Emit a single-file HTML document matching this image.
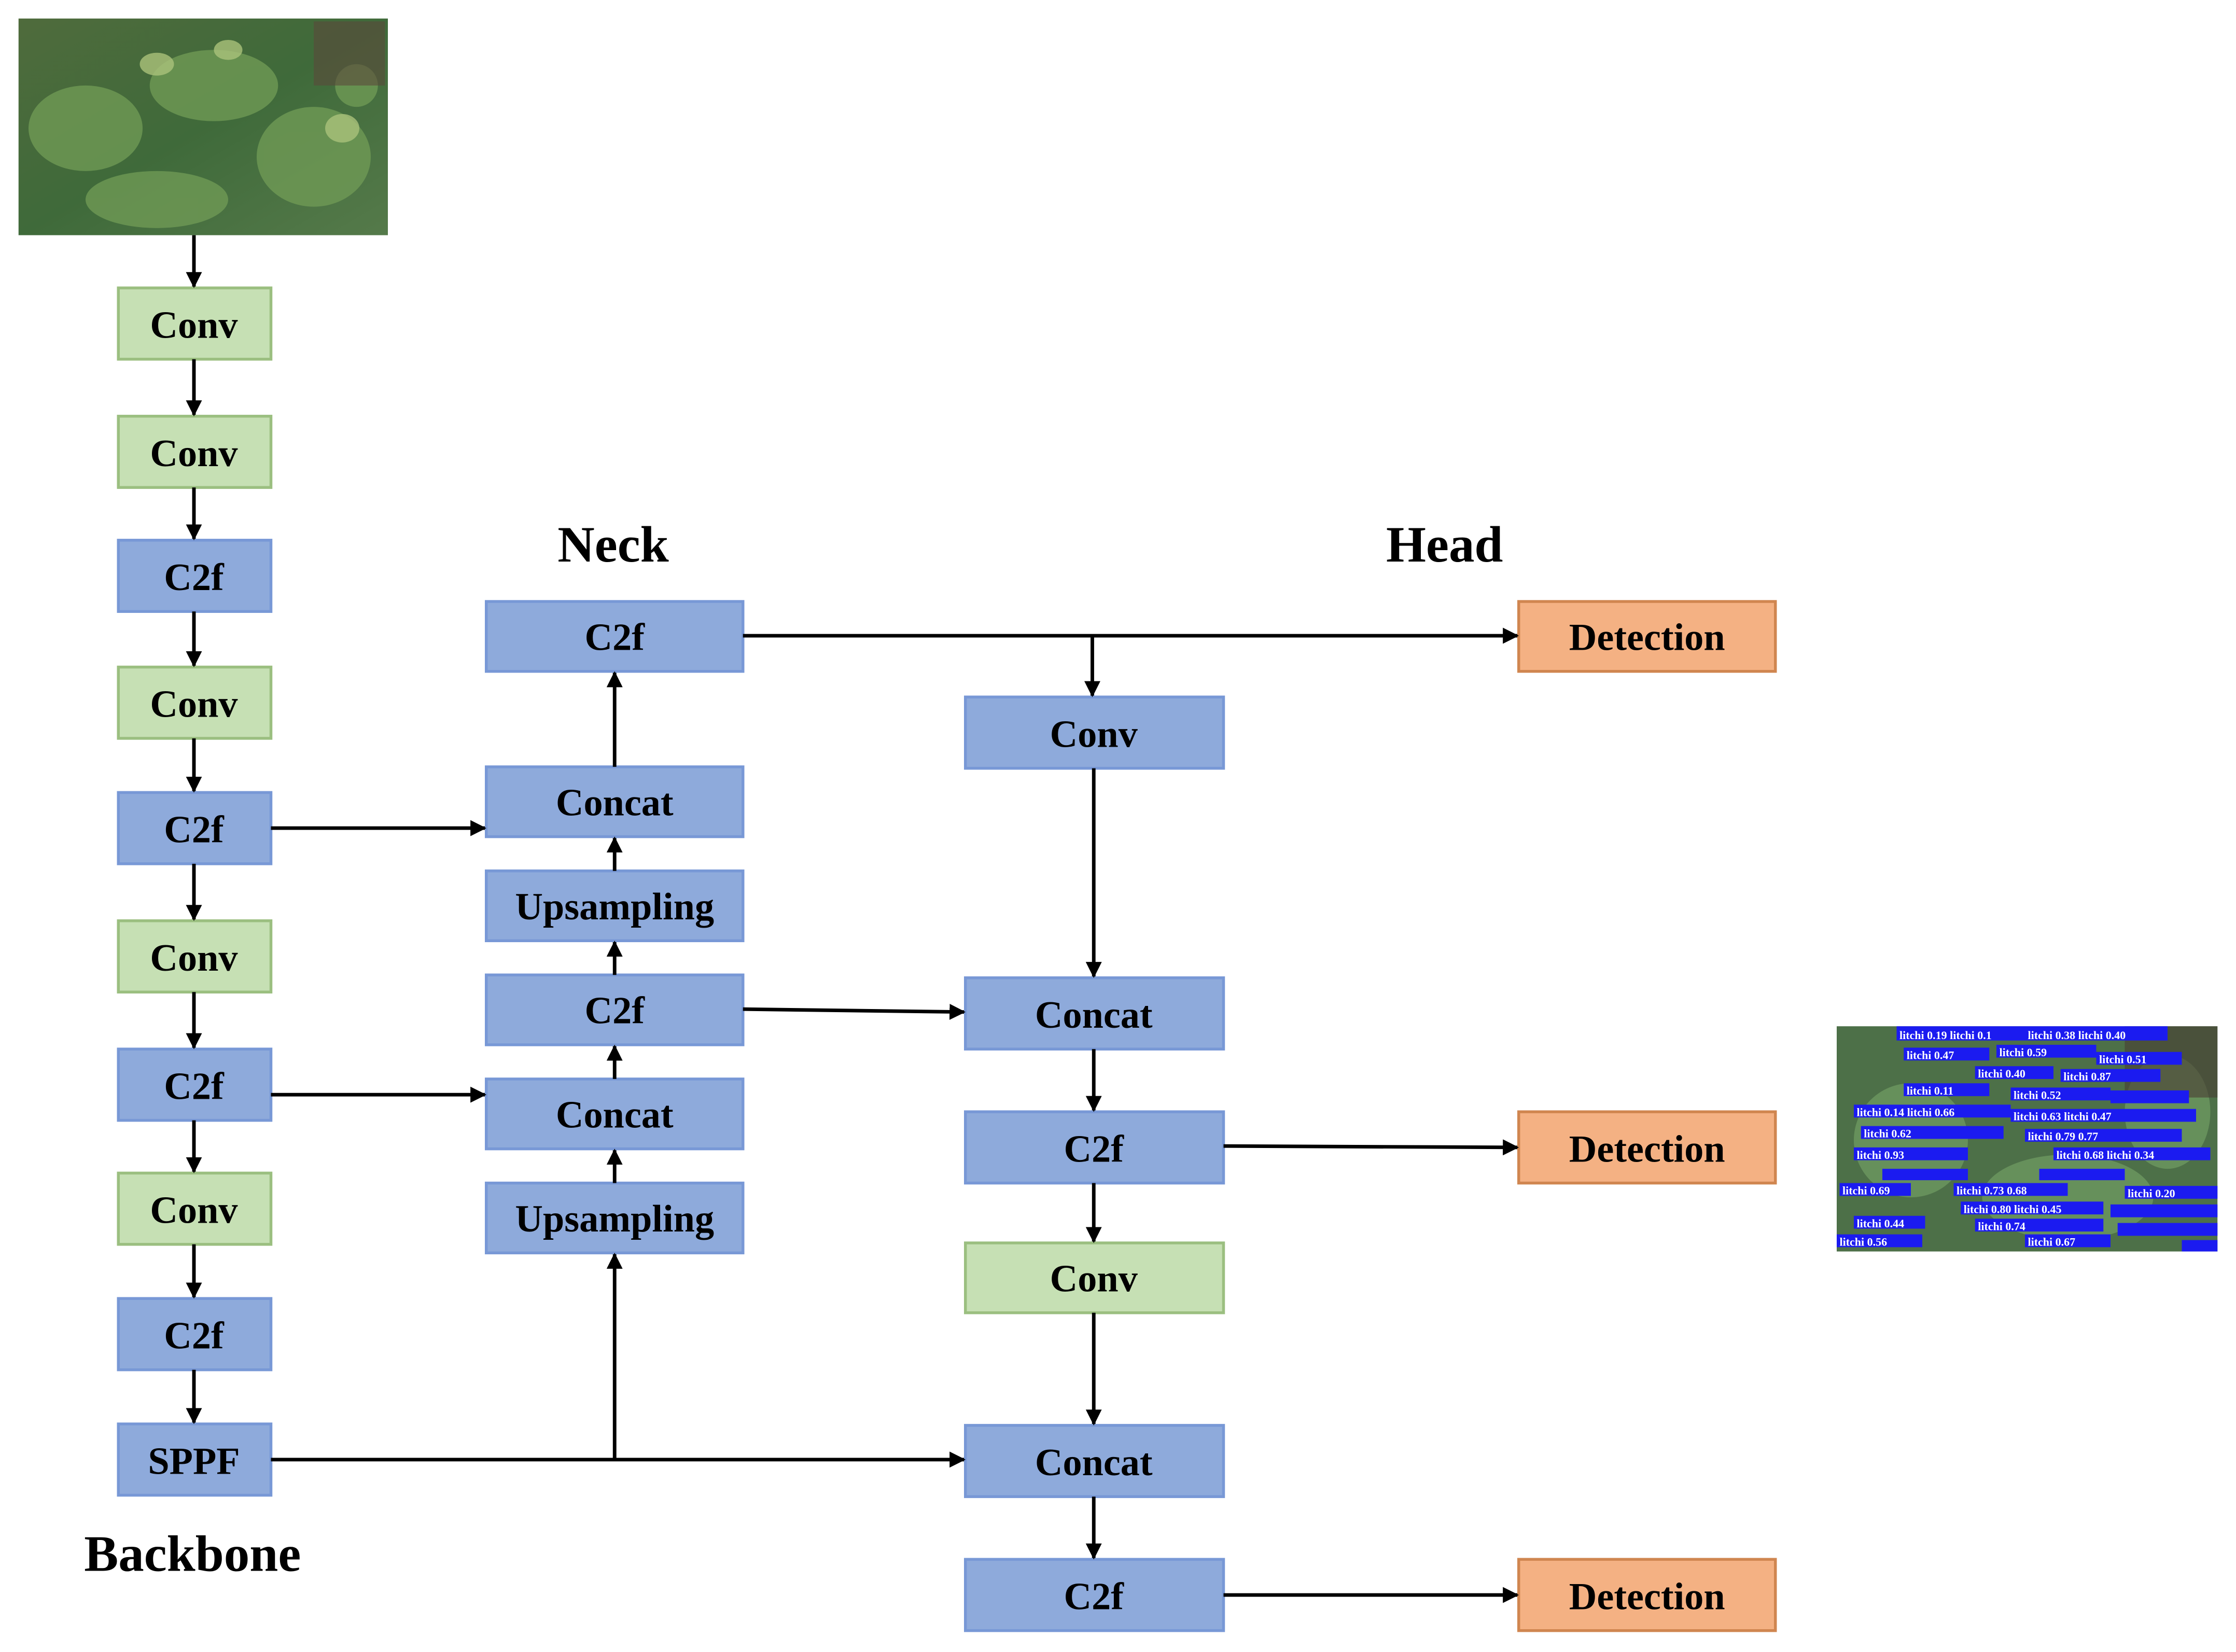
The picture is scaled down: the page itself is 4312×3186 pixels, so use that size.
<!DOCTYPE html>
<html><head><meta charset="utf-8"><style>
html,body{margin:0;padding:0;background:#fff;}
svg{display:block;}
text{font-family:"Liberation Serif",serif;font-weight:bold;}
</style></head><body>
<svg width="4312" height="3186" viewBox="0 0 1568 1159" preserveAspectRatio="none" xmlns="http://www.w3.org/2000/svg">
<defs>
<marker id="a" viewBox="0 0 10 10" refX="9" refY="5" markerWidth="4.5" markerHeight="4.5" orient="auto-start-reverse"><path d="M0,0 L10,5 L0,10 z" fill="#000"/></marker>
<linearGradient id="tree" x1="0" y1="0" x2="1" y2="1"><stop offset="0" stop-color="#4f6b3c"/><stop offset="0.5" stop-color="#3f6a3a"/><stop offset="1" stop-color="#557a4a"/></linearGradient>
</defs>
<rect width="1568" height="1159" fill="#fff"/>
<!-- input image -->
<rect x="13" y="13" width="259" height="152" fill="url(#tree)"/>
<g fill="#6f9a55" opacity="0.8">
<ellipse cx="60" cy="90" rx="40" ry="30"/><ellipse cx="150" cy="60" rx="45" ry="25"/><ellipse cx="220" cy="110" rx="40" ry="35"/><ellipse cx="110" cy="140" rx="50" ry="20"/><ellipse cx="250" cy="60" rx="15" ry="15"/>
</g>
<g fill="#aac27a" opacity="0.8"><ellipse cx="110" cy="45" rx="12" ry="8"/><ellipse cx="160" cy="35" rx="10" ry="7"/><ellipse cx="240" cy="90" rx="12" ry="10"/></g>
<rect x="220" y="15" width="50" height="45" fill="#5a4a3a" opacity="0.6"/>
<!-- output image -->
<rect x="1288" y="720" width="267" height="158" fill="#4d7048"/>
<g fill="#6d9860" opacity="0.8"><ellipse cx="1340" cy="800" rx="40" ry="40"/><ellipse cx="1450" cy="840" rx="60" ry="30"/><ellipse cx="1520" cy="780" rx="30" ry="40"/></g>
<rect x="1490" y="720" width="65" height="50" fill="#4a3c34" opacity="0.6"/>
<g fill="#1b1bf0">
<rect x="1330" y="720" width="90" height="10"/><rect x="1420" y="720" width="100" height="10"/>
<rect x="1335" y="735" width="60" height="9"/><rect x="1400" y="733" width="70" height="9"/><rect x="1470" y="738" width="60" height="9"/>
<rect x="1385" y="748" width="55" height="9"/><rect x="1445" y="750" width="70" height="9"/>
<rect x="1335" y="760" width="60" height="9"/><rect x="1410" y="763" width="70" height="9"/><rect x="1480" y="765" width="55" height="9"/>
<rect x="1300" y="775" width="110" height="9"/><rect x="1410" y="778" width="130" height="9"/>
<rect x="1305" y="790" width="100" height="9"/><rect x="1420" y="792" width="110" height="9"/>
<rect x="1300" y="805" width="80" height="9"/><rect x="1440" y="805" width="110" height="9"/>
<rect x="1320" y="820" width="60" height="8"/><rect x="1430" y="820" width="60" height="8"/>
<rect x="1290" y="830" width="50" height="9"/><rect x="1370" y="830" width="80" height="9"/><rect x="1490" y="832" width="65" height="9"/>
<rect x="1375" y="843" width="100" height="9"/><rect x="1480" y="845" width="75" height="9"/>
<rect x="1300" y="853" width="50" height="9"/><rect x="1385" y="855" width="90" height="9"/><rect x="1485" y="858" width="70" height="9"/>
<rect x="1288" y="866" width="60" height="9"/><rect x="1420" y="866" width="60" height="9"/><rect x="1530" y="870" width="25" height="8"/>
</g>
<g fill="#fff" font-size="8" style="font-family:'Liberation Sans',sans-serif;font-weight:normal">
<text x="1332" y="729">litchi 0.19 litchi 0.1</text><text x="1422" y="729">litchi 0.38 litchi 0.40</text>
<text x="1337" y="743">litchi 0.47</text><text x="1402" y="741">litchi 0.59</text><text x="1472" y="746">litchi 0.51</text>
<text x="1387" y="756">litchi 0.40</text><text x="1447" y="758">litchi 0.87</text>
<text x="1337" y="768">litchi 0.11</text><text x="1412" y="771">litchi 0.52</text>
<text x="1302" y="783">litchi 0.14 litchi 0.66</text><text x="1412" y="786">litchi 0.63 litchi 0.47</text>
<text x="1307" y="798">litchi 0.62</text><text x="1422" y="800">litchi 0.79 0.77</text>
<text x="1302" y="813">litchi 0.93</text><text x="1442" y="813">litchi 0.68 litchi 0.34</text>
<text x="1292" y="838">litchi 0.69</text><text x="1372" y="838">litchi 0.73 0.68</text><text x="1492" y="840">litchi 0.20</text>
<text x="1377" y="851">litchi 0.80 litchi 0.45</text><text x="1302" y="861">litchi 0.44</text><text x="1387" y="863">litchi 0.74</text>
<text x="1290" y="874">litchi 0.56</text><text x="1422" y="874">litchi 0.67</text>
</g>
<!-- labels -->
<g font-size="36" text-anchor="middle" fill="#000">
<text x="430" y="394">Neck</text><text x="1013" y="394">Head</text><text x="135" y="1102">Backbone</text>
</g>
<!-- boxes -->
<g stroke-width="2">
<g fill="#c6e0b4" stroke="#9bbf80">
<rect x="83" y="202" width="107" height="50"/><rect x="83" y="292" width="107" height="50"/><rect x="83" y="468" width="107" height="50"/><rect x="83" y="646" width="107" height="50"/><rect x="83" y="823" width="107" height="50"/>
<rect x="677" y="872" width="181" height="49"/>
</g>
<g fill="#8eaadb" stroke="#7898d6">
<rect x="83" y="379" width="107" height="50"/><rect x="83" y="556" width="107" height="50"/><rect x="83" y="736" width="107" height="50"/><rect x="83" y="911" width="107" height="50"/><rect x="83" y="999" width="107" height="50"/>
<rect x="341" y="422" width="180" height="49"/><rect x="341" y="538" width="180" height="49"/><rect x="341" y="611" width="180" height="49"/><rect x="341" y="684" width="180" height="49"/><rect x="341" y="757" width="180" height="49"/><rect x="341" y="830" width="180" height="49"/>
<rect x="677" y="489" width="181" height="50"/><rect x="677" y="686" width="181" height="50"/><rect x="677" y="780" width="181" height="50"/><rect x="677" y="1000" width="181" height="50"/><rect x="677" y="1094" width="181" height="50"/>
</g>
<g fill="#f4b183" stroke="#d08650">
<rect x="1065" y="422" width="180" height="49"/><rect x="1065" y="780" width="180" height="50"/><rect x="1065" y="1094" width="180" height="50"/>
</g>
</g>
<g font-size="27" text-anchor="middle" fill="#000">
<text x="136" y="237">Conv</text><text x="136" y="327">Conv</text><text x="136" y="414">C2f</text><text x="136" y="503">Conv</text><text x="136" y="591">C2f</text><text x="136" y="681">Conv</text><text x="136" y="771">C2f</text><text x="136" y="858">Conv</text><text x="136" y="946">C2f</text><text x="136" y="1034">SPPF</text>
<text x="431" y="456">C2f</text><text x="431" y="572">Concat</text><text x="431" y="645">Upsampling</text><text x="431" y="718">C2f</text><text x="431" y="791">Concat</text><text x="431" y="864">Upsampling</text>
<text x="767" y="524">Conv</text><text x="767" y="721">Concat</text><text x="767" y="815">C2f</text><text x="767" y="906">Conv</text><text x="767" y="1035">Concat</text><text x="767" y="1129">C2f</text>
<text x="1155" y="456">Detection</text><text x="1155" y="815">Detection</text><text x="1155" y="1129">Detection</text>
</g>
<!-- connectors -->
<g stroke="#000" stroke-width="2.5" fill="none" marker-end="url(#a)">
<line x1="136" y1="165" x2="136" y2="201"/><line x1="136" y1="252" x2="136" y2="291"/><line x1="136" y1="342" x2="136" y2="378"/><line x1="136" y1="429" x2="136" y2="467"/><line x1="136" y1="518" x2="136" y2="555"/><line x1="136" y1="606" x2="136" y2="645"/><line x1="136" y1="696" x2="136" y2="735"/><line x1="136" y1="786" x2="136" y2="822"/><line x1="136" y1="873" x2="136" y2="910"/><line x1="136" y1="961" x2="136" y2="998"/>
<line x1="190" y1="581" x2="340" y2="581"/><line x1="190" y1="768" x2="340" y2="768"/>
<line x1="431" y1="538" x2="431" y2="472"/><line x1="431" y1="611" x2="431" y2="588"/><line x1="431" y1="684" x2="431" y2="661"/><line x1="431" y1="757" x2="431" y2="734"/><line x1="431" y1="830" x2="431" y2="807"/><line x1="431" y1="1024" x2="431" y2="880"/>
<line x1="190" y1="1024" x2="676" y2="1024"/>
<line x1="521" y1="446" x2="1064" y2="446"/><line x1="766" y1="447" x2="766" y2="488"/>
<line x1="521" y1="708" x2="676" y2="710"/>
<line x1="767" y1="539" x2="767" y2="685"/><line x1="767" y1="736" x2="767" y2="779"/><line x1="767" y1="830" x2="767" y2="871"/><line x1="767" y1="921" x2="767" y2="999"/><line x1="767" y1="1050" x2="767" y2="1093"/>
<line x1="858" y1="804" x2="1064" y2="805"/><line x1="858" y1="1119" x2="1064" y2="1119"/>
</g>
</svg>
</body></html>
